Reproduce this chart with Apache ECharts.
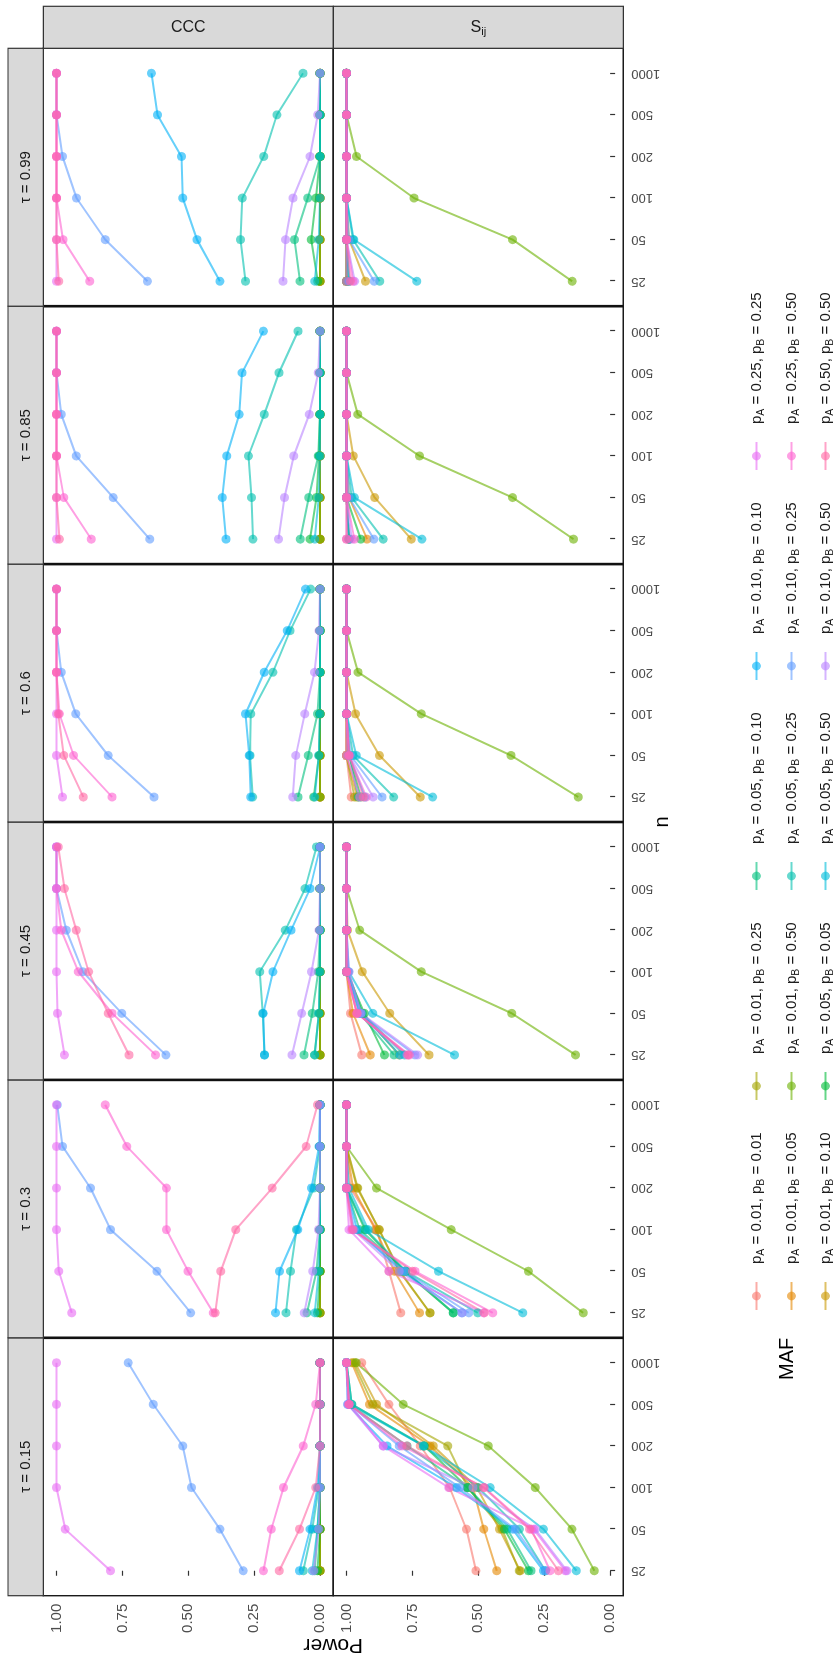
<!DOCTYPE html>
<html><head><meta charset="utf-8">
<script src="https://cdn.jsdelivr.net/npm/echarts@6/dist/echarts.min.js"></script>
<style>
html,body{margin:0;padding:0;width:834px;height:1680px;overflow:hidden;background:#fff;}
#chart{position:absolute;left:0;top:0;width:1680px;height:834px;transform-origin:0 0;transform:translate(0px,1680px) rotate(-90deg);}
</style></head><body><div id="chart"></div>
<script>
// ---------- data ----------
const nLabels = ['25','50','100','200','500','1000'];
const tauLabels = ['0.15','0.3','0.45','0.6','0.85','0.99'];
const methodLabels = ['CCC','S{s|ij}'];
const powerTicks = [0, 0.25, 0.5, 0.75, 1];
const mafLabels = [
 'pA = 0.01, pB = 0.01','pA = 0.01, pB = 0.05','pA = 0.01, pB = 0.10','pA = 0.01, pB = 0.25','pA = 0.01, pB = 0.50',
 'pA = 0.05, pB = 0.05','pA = 0.05, pB = 0.10','pA = 0.05, pB = 0.25','pA = 0.05, pB = 0.50','pA = 0.10, pB = 0.10',
 'pA = 0.10, pB = 0.25','pA = 0.10, pB = 0.50','pA = 0.25, pB = 0.25','pA = 0.25, pB = 0.50','pA = 0.50, pB = 0.50'];
const mafColors = ['#F8766D','#E58700','#C99800','#A3A500','#6BB100','#00BA38','#00BF7D','#00C0AF',
 '#00BCD8','#00B0F6','#619CFF','#B983FF','#E76BF3','#FD61D1','#FF67A4'];

// CCC power, rows = MAF series (legend order), columns = n (25..1000)
const ccc015 = [
 [0,0,0,0,0,0],[0,0,0,0,0,0],[0,0,0,0,0,0],[0,0,0,0,0,0],[0,0,0,0,0,0],
 [0.01,0,0,0,0,0],[0.02,0.01,0,0,0,0],[0.064,0.030,0.005,0,0,0],[0.03,0.01,0,0,0,0],[0.078,0.038,0.010,0,0,0],
 [0.292,0.380,0.488,0.521,0.633,0.728],[0.024,0.005,0,0,0,0],[0.795,0.967,1,1,1,1],
 [0.215,0.185,0.139,0.064,0.017,0],[0.155,0.078,0.017,0,0,0]];
const ccc030 = [
 [0,0,0,0,0,0],[0,0,0,0,0,0],[0,0,0,0,0,0],[0,0,0,0,0,0],[0,0,0,0,0,0],
 [0.01,0,0,0,0,0],[0.050,0.014,0,0,0,0],[0.129,0.112,0.090,0.024,0,0],[0.02,0.005,0,0,0,0],[0.169,0.154,0.085,0.033,0.004,0],
 [0.491,0.619,0.795,0.871,0.977,0.997],[0.060,0.028,0.006,0,0,0],[0.942,0.991,1,1,1,1],
 [0.405,0.501,0.583,0.583,0.733,0.815],[0.398,0.377,0.320,0.182,0.053,0.010]];
const ccc045 = [
 [0,0,0,0,0,0],[0,0,0,0,0,0],[0,0,0,0,0,0],[0,0,0,0,0,0],[0,0,0,0,0,0],
 [0.021,0.004,0,0,0,0],[0.061,0.030,0.007,0,0,0],[0.211,0.218,0.229,0.132,0.057,0.014],[0.02,0.005,0,0,0,0],[0.211,0.216,0.179,0.110,0.038,0],
 [0.585,0.752,0.900,0.963,1,1],[0.107,0.070,0.033,0.004,0,0],[0.970,0.996,1,1,1,1],
 [0.624,0.789,0.917,0.982,1,1],[0.725,0.804,0.878,0.925,0.970,0.993]];
const ccc060 = [
 [0,0,0,0,0,0],[0,0,0,0,0,0],[0,0,0,0,0,0],[0,0,0,0,0,0],[0,0,0,0,0,0],
 [0.024,0.004,0,0,0,0],[0.084,0.045,0.010,0,0,0],[0.256,0.266,0.263,0.179,0.114,0.036],[0.02,0.005,0,0,0,0],[0.263,0.269,0.283,0.212,0.125,0.055],
 [0.630,0.804,0.927,0.982,1,1],[0.104,0.092,0.058,0.021,0.004,0],[0.977,1,1,1,1,1],
 [0.789,0.935,0.989,1,1,1],[0.898,0.972,0.993,1,1,1]];
const ccc085 = [
 [0,0,0,0,0,0],[0,0,0,0,0,0],[0,0,0,0,0,0],[0,0,0,0,0,0],[0,0,0,0,0,0],
 [0.038,0.014,0.004,0,0,0],[0.075,0.043,0.007,0,0,0],[0.255,0.260,0.272,0.212,0.156,0.084],[0.02,0.005,0,0,0,0],[0.357,0.371,0.354,0.307,0.296,0.215],
 [0.646,0.785,0.925,0.982,1,1],[0.158,0.135,0.100,0.041,0.007,0],[1,1,1,1,1,1],
 [0.868,0.972,1,1,1,1],[0.989,1,1,1,1,1]];
const ccc099 = [
 [0,0,0,0,0,0],[0,0,0,0,0,0],[0,0,0,0,0,0],[0,0,0,0,0,0],[0,0,0,0,0,0],
 [0.009,0.034,0.016,0,0,0],[0.076,0.097,0.047,0,0,0],[0.283,0.302,0.295,0.214,0.164,0.065],[0.02,0.005,0,0,0,0],[0.380,0.467,0.521,0.526,0.617,0.640],
 [0.655,0.815,0.924,0.977,1,1],[0.141,0.131,0.103,0.038,0.009,0],[1,1,1,1,1,1],
 [0.874,0.975,1,1,1,1],[0.991,1,1,1,1,1]];

// S_ij power
const sij015 = [
 [0.509,0.545,0.609,0.720,0.839,0.942],[0.430,0.479,0.520,0.683,0.913,0.980],[0.341,0.420,0.505,0.671,0.886,0.967],
 [0.345,0.410,0.540,0.616,0.900,0.974],[0.060,0.145,0.284,0.462,0.785,0.963],[0.310,0.401,0.541,0.704,0.980,1],
 [0.300,0.390,0.540,0.770,0.990,1],[0.245,0.344,0.500,0.708,0.990,1],[0.128,0.253,0.455,0.708,0.980,1],
 [0.253,0.370,0.583,0.846,0.995,1],[0.245,0.360,0.570,0.800,0.990,1],[0.164,0.284,0.520,0.861,0.995,1],
 [0.170,0.290,0.612,0.861,0.990,1],[0.228,0.299,0.477,0.789,0.990,1],[0.196,0.306,0.480,0.771,0.990,1]];
const sij030 = [
 [0.794,0.839,0.885,0.985,1,1],[0.723,0.818,0.890,0.975,1,1],[0.683,0.800,0.875,0.960,1,1],
 [0.683,0.797,0.877,0.957,1,1],[0.102,0.310,0.603,0.886,1,1],[0.595,0.780,0.930,1,1,1],
 [0.595,0.775,0.950,1,1,1],[0.502,0.775,0.925,1,1,1],[0.331,0.651,0.917,0.991,1,1],
 [0.562,0.790,0.960,1,1,1],[0.536,0.780,0.970,1,1,1],[0.562,0.800,0.975,1,1,1],
 [0.480,0.839,0.990,1,1,1],[0.445,0.740,0.980,1,1,1],[0.477,0.750,0.975,1,1,1]];
const sij045 = [
 [0.942,0.985,1,1,1,1],[0.910,0.975,1,1,1,1],[0.687,0.836,0.940,0.996,1,1],
 [0.800,0.940,0.995,1,1,1],[0.131,0.373,0.716,0.950,1,1],[0.856,0.932,1,1,1,1],
 [0.820,0.950,1,1,1,1],[0.780,0.940,0.995,1,1,1],[0.590,0.900,0.991,1,1,1],
 [0.797,0.945,1,1,1,1],[0.740,0.950,0.995,1,1,1],[0.730,0.945,0.990,1,1,1],
 [0.770,0.960,1,1,1,1],[0.761,0.960,1,1,1,1],[0.766,0.960,1,1,1,1]];
const sij060 = [
 [0.982,1,1,1,1,1],[0.960,1,1,1,1,1],[0.720,0.875,0.966,1,1,1],
 [0.970,1,1,1,1,1],[0.121,0.376,0.716,0.956,1,1],[0.946,0.990,1,1,1,1],
 [0.955,0.990,1,1,1,1],[0.821,0.975,1,1,1,1],[0.673,0.963,1,1,1,1],
 [0.930,0.990,1,1,1,1],[0.865,0.985,1,1,1,1],[0.899,0.990,1,1,1,1],
 [0.950,1,1,1,1,1],[0.925,0.990,1,1,1,1],[0.936,0.990,1,1,1,1]];
const sij085 = [
 [0.990,1,1,1,1,1],[0.922,0.990,1,1,1,1],[0.754,0.893,0.974,1,1,1],
 [0.990,1,1,1,1,1],[0.139,0.370,0.723,0.957,1,1],[0.946,1,1,1,1,1],
 [0.990,1,1,1,1,1],[0.861,0.980,1,1,1,1],[0.714,0.970,1,1,1,1],
 [0.990,1,1,1,1,1],[0.896,0.990,1,1,1,1],[0.980,1,1,1,1,1],
 [1,1,1,1,1,1],[0.970,1,1,1,1,1],[1,1,1,1,1,1]];
const sij099 = [
 [1,1,1,1,1,1],[1,1,1,1,1,1],[0.928,0.990,1,1,1,1],
 [1,1,1,1,1,1],[0.144,0.370,0.744,0.962,1,1],[1,1,1,1,1,1],
 [0.990,1,1,1,1,1],[0.874,0.975,1,1,1,1],[0.733,0.972,1,1,1,1],
 [0.990,1,1,1,1,1],[0.895,0.990,1,1,1,1],[0.969,1,1,1,1,1],
 [1,1,1,1,1,1],[0.975,1,1,1,1,1],[0.985,1,1,1,1,1]];

// ---------- layout (drawn unrotated 1680x834, then the div is turned 90deg CCW) ----------
const FONT = '"Liberation Sans", Arial, Helvetica, sans-serif';
const panelsByMethod = [[ccc015,ccc030,ccc045,ccc060,ccc085,ccc099],[sij015,sij030,sij045,sij060,sij085,sij099]];
const PL = 84.3, PW = 257.9, PT = 43.3, PH = 290;
const legendRowY = [752, 787, 821];
const legendColX = [383, 593, 803, 1013, 1223];
const nIdx = nLabels.map((l, i) => i);

const grids = [], xAxes = [], yAxes = [], series = [], graphics = [];
for (let r = 0; r < 2; r++) {
  for (let c = 0; c < 6; c++) {
    const idx = r * 6 + c;
    grids.push({left: PL + c * PW, top: PT + r * PH, width: PW, height: PH, show: true,
      borderColor: '#1a1a1a', borderWidth: 1.4, backgroundColor: '#fff'});
    xAxes.push({type: 'value', gridIndex: idx, min: -0.6, max: 5.6,
      splitLine: {show: false}, axisLine: {show: false},
      axisTick: {show: r === 1, length: 5, customValues: nIdx, lineStyle: {color: '#333', width: 1.2}},
      axisLabel: {show: r === 1, customValues: nIdx, formatter: v => nLabels[Math.round(v)],
        rotate: 90, margin: 8, fontSize: 13, color: '#4d4d4d', fontFamily: FONT}});
    yAxes.push({type: 'value', gridIndex: idx, min: -0.05, max: 1.05,
      splitLine: {show: false}, axisLine: {show: false},
      axisTick: {show: c === 0, length: 5, customValues: powerTicks, lineStyle: {color: '#333', width: 1.2}},
      axisLabel: {show: c === 0, customValues: powerTicks, formatter: v => v.toFixed(2),
        margin: 8, fontSize: 15, color: '#4d4d4d', fontFamily: FONT}});
    const panel = panelsByMethod[r][c];
    for (let k = 0; k < 15; k++) {
      series.push({type: 'line', name: mafLabels[k], xAxisIndex: idx, yAxisIndex: idx,
        data: panel[k].map((v, i) => [i, v]), symbol: 'circle', symbolSize: 9, showSymbol: true,
        lineStyle: {width: 2, color: mafColors[k], opacity: 0.6},
        itemStyle: {color: mafColors[k], opacity: 0.6},
        emphasis: {disabled: true}, silent: true, animation: false});
    }
  }
}
// heavier separators between tau columns (adjacent panel borders)
for (let c = 1; c < 6; c++) {
  graphics.push({type: 'line', shape: {x1: PL + c * PW, y1: PT, x2: PL + c * PW, y2: PT + 2 * PH},
    style: {stroke: '#111', lineWidth: 2.6}, z: 9});
}
// top strips (tau)
for (let c = 0; c < 6; c++) {
  graphics.push({type: 'rect', shape: {x: PL + c * PW, y: 8, width: PW, height: PT - 8},
    style: {fill: '#d9d9d9', stroke: '#333', lineWidth: 1.2}, z: 10});
  graphics.push({type: 'text', x: PL + c * PW + PW / 2, y: (8 + PT) / 2, z: 11,
    style: {text: 'τ = ' + tauLabels[c], fontSize: 15, fontFamily: FONT, fill: '#1a1a1a', align: 'center', verticalAlign: 'middle'}});
}
// right strips (method)
const RX = PL + 6 * PW;
for (let r = 0; r < 2; r++) {
  graphics.push({type: 'rect', shape: {x: RX, y: PT + r * PH, width: 42, height: PH},
    style: {fill: '#d9d9d9', stroke: '#333', lineWidth: 1.2}, z: 10});
  graphics.push({type: 'text', x: RX + 21, y: PT + r * PH + PH / 2, rotation: -Math.PI / 2, z: 11,
    style: {text: methodLabels[r], fontSize: 16, fontFamily: FONT, fill: '#1a1a1a', align: 'center', verticalAlign: 'middle',
      rich: {s: {fontSize: 11, fontFamily: FONT, fill: '#1a1a1a', padding: [9, 0, 0, 0]}}}});
}
// axis titles
graphics.push({type: 'text', x: 35, y: PT + PH, rotation: Math.PI / 2, z: 11,
  style: {text: 'Power', fontSize: 21, fontFamily: FONT, fill: '#000', align: 'center', verticalAlign: 'middle'}});
graphics.push({type: 'text', x: PL + 3 * PW, y: 662, z: 11,
  style: {text: 'n', fontSize: 20, fontFamily: FONT, fill: '#000', align: 'center', verticalAlign: 'middle'}});
// legend title
graphics.push({type: 'text', x: 300, y: legendRowY[1], z: 11,
  style: {text: 'MAF', fontSize: 20, fontFamily: FONT, fill: '#000', align: 'left', verticalAlign: 'middle'}});

// legends: one component per key so the column-wise ggplot layout is reproduced
const legends = mafLabels.map((name, k) => ({
  data: [name], left: legendColX[Math.floor(k / 3)] - 14, top: legendRowY[k % 3] - 5.5,
  orient: 'horizontal', itemWidth: 28, itemHeight: 11, padding: 0, selectedMode: false,
  itemStyle: {opacity: 0.6}, lineStyle: {opacity: 0.6, width: 2},
  formatter: nm => nm.replace('pA', 'p{s|A}').replace('pB', 'p{s|B}'),
  textStyle: {fontSize: 15, fontFamily: FONT, color: '#1a1a1a', padding: [0, 0, 0, 13], lineHeight: 20,
    rich: {s: {fontSize: 10.5, fontFamily: FONT, color: '#1a1a1a', verticalAlign: 'bottom'}}}
}));

const chart = echarts.init(document.getElementById('chart'), null, {renderer: 'canvas', width: 1680, height: 834});
chart.setOption({
  animation: false, backgroundColor: '#fff',
  grid: grids, xAxis: xAxes, yAxis: yAxes, series: series, legend: legends, graphic: graphics
});
</script></body></html>
